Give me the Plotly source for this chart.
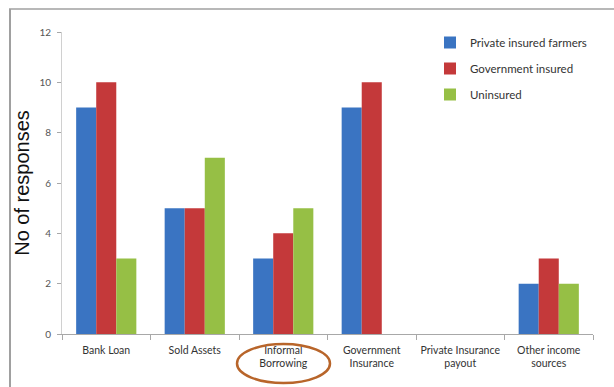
import plotly.graph_objects as go

# Coping strategies reported by each farmer group
categories = [
    "Bank Loan",
    "Sold Assets",
    "Informal<br>Borrowing",
    "Government<br>Insurance",
    "Private Insurance<br>payout",
    "Other income<br>sources",
]
private_insured = [9, 5, 3, 9, 0, 2]
government_insured = [10, 5, 4, 10, 0, 3]
uninsured = [3, 7, 5, 0, 0, 2]

series = [
    ("Private insured farmers", private_insured, "#3a74c2"),
    ("Government insured", government_insured, "#c4393a"),
    ("Uninsured", uninsured, "#96bf45"),
]

W, H = 614, 387
L, R, T, B = 62, 21, 32, 53
pw, ph = W - L - R, H - T - B


def px_x(x):
    return (x - L) / pw


def px_y(y):
    return (H - B - y) / ph


fig = go.Figure()
for name, vals, color in series:
    fig.add_trace(go.Bar(
        name=name, x=categories, y=vals,
        marker=dict(color=color, line=dict(width=0)),
        legendgroup=name,
    ))

fig.update_layout(
    width=W, height=H,
    margin=dict(l=L, r=R, t=T, b=B, autoexpand=False),
    paper_bgcolor="white", plot_bgcolor="white",
    barmode="group", bargap=0.32, bargroupgap=0,
    font=dict(family="Lato, Liberation Sans", color="#333333"),
    showlegend=True,
    legend=dict(
        x=px_x(430), y=px_y(28), xanchor="left", yanchor="top",
        font=dict(size=11.5, color="#333333"),
        tracegroupgap=7, bgcolor="rgba(0,0,0,0)",
        itemwidth=30,
    ),
    xaxis=dict(
        type="category", showgrid=False, automargin=False,
        showline=True, linecolor="#a8a8a8", linewidth=1,
        ticks="outside", tickson="boundaries", ticklen=5, tickcolor="#a8a8a8",
        tickfont=dict(size=10.5, color="#333333"),
        tickangle=0, ticklabelstandoff=6,
        range=[-0.5, 5.5],
    ),
    yaxis=dict(
        range=[0, 12], dtick=2, showgrid=False, zeroline=False, automargin=False,
        showline=True, linecolor="#d0d0d0", linewidth=1,
        ticks="outside", ticklen=4, tickcolor="#a8a8a8",
        tickfont=dict(size=10, color="#555555"),
        ticklabelstandoff=4,
        title=dict(text="No of responses", font=dict(size=20, color="#111111",
                                                     family="Liberation Sans"),
                   standoff=4),
    ),
    shapes=[
        # outer frame (left and top edges)
        dict(type="line", xref="paper", yref="paper",
             x0=px_x(10), x1=px_x(10), y0=px_y(9), y1=px_y(390),
             line=dict(color="#a0a0a0", width=2)),
        dict(type="line", xref="paper", yref="paper",
             x0=px_x(9), x1=px_x(620), y0=px_y(9), y1=px_y(9),
             line=dict(color="#a0a0a0", width=1.5)),
        # highlight ring around the informal borrowing label
        dict(type="circle", xref="paper", yref="paper",
             x0=px_x(237), x1=px_x(330), y0=px_y(383), y1=px_y(344),
             line=dict(color="#b8652a", width=2.5)),
    ],
)

fig.write_html("out.html")
